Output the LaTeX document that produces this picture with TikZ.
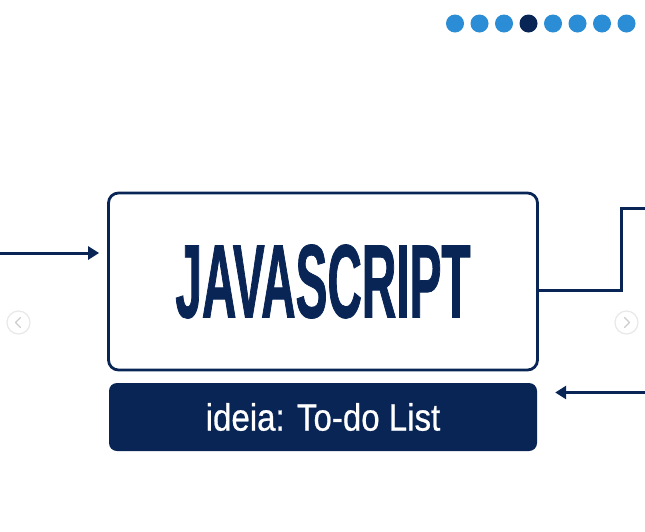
\documentclass[tikz,border=0pt]{standalone}
\usepackage{fontspec}
\setmainfont{Liberation Sans}
\newfontfamily\titlefont{Liberation Sans Bold}[FakeStretch=0.46,FakeBold=0.7]
\newfontfamily\labelfont{Liberation Sans}[FakeStretch=0.87,FakeBold=0.6]
\usetikzlibrary{arrows.meta}
\definecolor{navy}{RGB}{8,37,86}
\definecolor{dotblue}{RGB}{42,141,213}
\definecolor{navgray}{RGB}{232,232,232}
\definecolor{chevgray}{RGB}{205,205,205}

\begin{document}
\begin{tikzpicture}[x=1pt,y=-1pt,
    mainbox/.style={draw=navy,line width=2.8pt,rounded corners=10pt,
      minimum width=429pt,minimum height=177pt,inner sep=0pt,text=navy},
    namebox/.style={fill=navy,rounded corners=8pt,minimum width=428pt,
      minimum height=68pt,inner sep=0pt,text=white},
    pagedot/.style={circle,inner sep=0pt,minimum size=18pt},
    navbtn/.style={circle,draw=navgray,line width=1.2pt,fill=white,minimum size=23pt},
    chev/.style={chevgray,line width=1.3pt,line cap=round,line join=round},
    link/.style={navy,line width=3pt},
    flow/.style={link,-{Triangle[length=11pt,width=13pt]}}]
    \useasboundingbox (0,0) rectangle (645,531);
    \fill[white] (0,0) rectangle (645,531);

    % page dots
    \foreach \i/\c in {0/dotblue,1/dotblue,2/dotblue,3/navy,4/dotblue,5/dotblue,6/dotblue,7/dotblue}
        \node[pagedot,fill=\c] (dot\i) at (455+24.5*\i,23.5) {};

    % boxes
    \node[mainbox] (js) at (323,281.5)
        {\resizebox{295pt}{73pt}{\titlefont JAVASCRIPT}};
    \node[namebox] (idea) at (323,417)
        {\labelfont\fontsize{38}{38}\selectfont ideia: To-do List};

    % connectors
    \coordinate (inL) at (0,253);
    \coordinate (bend) at (621,208);
    \coordinate (outR) at (645,208);
    \coordinate (inR) at (645,392.5);
    \draw[flow] (inL) -- ([xshift=-8pt]inL -| js.west);
    \draw[link] ([yshift=-9pt]js.east) -| (bend) -- (outR);
    \draw[flow] (inR) -- ([xshift=18pt]inR -| idea.east);

    % side buttons
    \node[navbtn] (prev) at (18.5,322.5) {};
    \node[navbtn] (next) at (626.5,322.5) {};
    \draw[chev] ([xshift=2pt,yshift=5pt]prev.center) -- ([xshift=-3pt]prev.center)
        -- ([xshift=2pt,yshift=-5pt]prev.center);
    \draw[chev] ([xshift=-2pt,yshift=5pt]next.center) -- ([xshift=3pt]next.center)
        -- ([xshift=-2pt,yshift=-5pt]next.center);
\end{tikzpicture}
\end{document}
